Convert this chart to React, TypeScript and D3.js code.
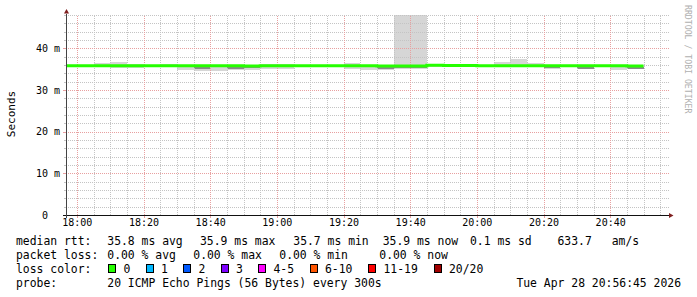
import React from "react";
import * as d3 from "d3";

// ---- data ----
const stepCount = 35; // 5-minute steps from 17:55 to 20:50
const stepStartUtc = Date.UTC(2026, 3, 28, 17, 55);
const stepMs = 300000;

const medianMs = [
  35.8, 35.8, 35.8, 35.8, 35.8, 35.8, 35.8, 35.8, 35.8, 35.8,
  35.8, 35.75, 35.8, 35.8, 35.8, 35.8, 35.8, 35.8, 35.8, 35.75,
  35.75, 35.75, 35.95, 35.85, 35.85, 35.8, 35.8, 35.8, 35.8, 35.8,
  35.8, 35.8, 35.8, 35.8, 35.75,
];
const smokeLoMs = [
  35.5, 35.5, 35.5, 35.3, 35.3, 35.5, 35.4, 34.9, 34.5, 34.6,
  34.9, 34.9, 35.0, 35.1, 35.5, 35.5, 35.5, 35.1, 34.9, 34.9,
  35.1, 35.1, 35.6, 35.5, 35.5, 35.5, 35.5, 35.5, 35.4, 35.1,
  35.5, 35.0, 35.5, 34.7, 35.0,
];
const smokeHiMs = [
  36.1, 36.1, 36.5, 36.8, 36.3, 36.0, 36.3, 36.0, 35.9, 35.9,
  36.1, 36.0, 36.3, 36.3, 36.0, 36.0, 36.0, 36.4, 36.0, 35.9,
  48.1, 48.1, 36.2, 36.3, 36.2, 36.0, 36.8, 37.4, 36.4, 36.0,
  36.0, 36.0, 36.0, 36.0, 35.9,
];
const coreLoMs = [
  35.6, 35.6, 35.6, 35.6, 35.5, 35.6, 35.6, 35.5, 35.1, 35.4,
  35.1, 35.2, 35.4, 35.4, 35.6, 35.6, 35.6, 35.4, 35.4, 35.1,
  35.2, 35.2, 35.7, 35.6, 35.6, 35.6, 35.6, 35.6, 35.6, 35.2,
  35.6, 35.1, 35.6, 35.4, 35.1,
];
const coreHiMs = [
  35.9, 35.9, 36.0, 36.0, 35.9, 35.9, 35.9, 35.9, 35.6, 35.7,
  35.6, 35.6, 35.9, 35.9, 35.9, 35.9, 35.9, 35.9, 35.8, 35.6,
  35.6, 35.6, 36.1, 36.0, 36.0, 35.9, 36.0, 36.0, 35.9, 35.7,
  35.9, 35.6, 35.9, 35.7, 35.6,
];

const yTickValues = [0, 10, 20, 30, 40];
const yTickLabels = ["0  ", "10 m", "20 m", "30 m", "40 m"];

const rttLabel = "median rtt:";
const rttItems = ["35.8 ms avg", "35.9 ms max", "35.7 ms min", "35.9 ms now", "0.1 ms sd", "633.7", "am/s"];
const lossLabel = "packet loss:";
const lossItems = ["0.00 % avg", "0.00 % max", "0.00 % min", "0.00 % now"];
const colorLabel = "loss color:";
const lossBucketLabels = ["0", "1", "2", "3", "4-5", "6-10", "11-19", "20/20"];
const lossBucketColors = ["#26ff00", "#00b8ff", "#0059ff", "#7e00ff", "#ff00ff", "#ff5500", "#ff0000", "#a10000"];
const probeLabel = "probe:";
const probeText = "20 ICMP Echo Pings (56 Bytes) every 300s";
const dateText = "Tue Apr 28 20:56:45 2026";
const yAxisTitle = "Seconds";
const watermark = "RRDTOOL / TOBI OETIKER";

export default function App() {
  const W = 697, H = 297;
  const left = 66, right = 666, bottom = 215;
  const t0 = new Date(Date.UTC(2026, 3, 28, 17, 56, 45));
  const t1 = new Date(Date.UTC(2026, 3, 28, 20, 56, 45));
  const x = d3.scaleUtc().domain([t0, t1]).range([left, right]);
  const yMax = 48.1;
  const y = d3.scaleLinear().domain([0, yMax]).range([bottom, bottom - yMax * (166.67 / 40)]);
  const top = y(yMax);
  const gridRight = 669;

  const starts = d3.range(stepCount).map((i) => new Date(stepStartUtc + i * stepMs));
  const ends = starts.map((d) => new Date(d.getTime() + stepMs));

  const minorY = d3.range(0, 49, 2).filter((v) => v % 10 !== 0);
  const majorY = d3.range(0, 49, 10).filter((v) => v > 0);
  const timeTicks5 = x.ticks(d3.utcMinute.every(5));
  const majorX = timeTicks5.filter((d) => d.getUTCMinutes() % 20 === 0);
  const minorX = timeTicks5.filter((d) => d.getUTCMinutes() % 20 !== 0);
  const fmt = d3.utcFormat("%H:%M");

  const linePts: [Date, number][] = starts.map((d, i) => [d, medianMs[i]]);
  linePts.push([ends[stepCount - 1], medianMs[stepCount - 1]]);
  const medianPath = d3
    .line<[Date, number]>()
    .x((d) => x(d[0]))
    .y((d) => y(d[1]))
    .curve(d3.curveStepAfter)(linePts) as string;

  const mono = "'DejaVu Sans Mono', monospace";
  const charW = 7.0;

  // legend layout
  const col2 = 107.3;
  const rttX = [col2, 200, 293.3, 382.7, 470, 557.5, 611.7];
  const lossX = [col2, 193.3, 279.3, 379.3];
  const boxes: { bx: number; lx: number }[] = [];
  let bx = 108.5;
  lossBucketLabels.forEach((lab) => {
    const lx = bx + 15;
    boxes.push({ bx, lx });
    bx = lx + lab.length * charW + 15.5;
  });

  const minorGrid = "#c4c4c4";
  const majorGrid = "#e8a0a0";

  return (
    <svg width={W} height={H} style={{ position: "absolute", left: 0, top: 0, background: "#fff" }} fontFamily={mono}>
      <defs>
        <clipPath id="plot">
          <rect x={left} y={top} width={right - left} height={bottom - top} />
        </clipPath>
      </defs>
      <rect x={0} y={0} width={W} height={H} fill="#ffffff" />

      {/* smoke */}
      <g clipPath="url(#plot)">
        {starts.map((d, i) => (
          <rect key={"s" + i} x={x(d)} width={x(ends[i]) - x(d)} y={y(smokeHiMs[i])}
            height={y(smokeLoMs[i]) - y(smokeHiMs[i])} fill="#d6d6d6" shapeRendering="crispEdges" />
        ))}
        {starts.map((d, i) => (
          <rect key={"c" + i} x={x(d)} width={x(ends[i]) - x(d)} y={y(coreHiMs[i])}
            height={y(coreLoMs[i]) - y(coreHiMs[i])} fill="#8a8a8a" shapeRendering="crispEdges" />
        ))}
      </g>

      {/* grid */}
      <g strokeWidth={1} strokeDasharray="1,1" shapeRendering="crispEdges">
        {minorY.map((v) => (
          <line key={"my" + v} x1={left} x2={gridRight} y1={Math.round(y(v)) + 0.5} y2={Math.round(y(v)) + 0.5} stroke={minorGrid} />
        ))}
        {minorX.map((d) => (
          <line key={"mx" + d.getTime()} x1={Math.round(x(d)) + 0.5} x2={Math.round(x(d)) + 0.5} y1={bottom} y2={top} stroke={minorGrid} />
        ))}
        {majorY.map((v) => (
          <line key={"My" + v} x1={left} x2={gridRight} y1={Math.round(y(v)) + 0.5} y2={Math.round(y(v)) + 0.5} stroke={majorGrid} />
        ))}
        {majorX.map((d) => (
          <line key={"Mx" + d.getTime()} x1={Math.round(x(d)) + 0.5} x2={Math.round(x(d)) + 0.5} y1={bottom} y2={top} stroke={majorGrid} />
        ))}
      </g>
      {/* ticks */}
      <g shapeRendering="crispEdges">
        {minorY.map((v) => (
          <line key={"ty" + v} x1={left - 2} x2={left} y1={Math.round(y(v)) + 0.5} y2={Math.round(y(v)) + 0.5} stroke={minorGrid} />
        ))}
        {majorY.map((v) => (
          <line key={"tY" + v} x1={left - 3} x2={left} y1={Math.round(y(v)) + 0.5} y2={Math.round(y(v)) + 0.5} stroke={majorGrid} />
        ))}
        {majorX.map((d) => (
          <line key={"tX" + d.getTime()} x1={Math.round(x(d)) + 0.5} x2={Math.round(x(d)) + 0.5} y1={bottom} y2={bottom + 3} stroke={majorGrid} />
        ))}
      </g>

      {/* median line */}
      <path d={medianPath} clipPath="url(#plot)" fill="none" stroke={lossBucketColors[0]} strokeWidth={3} />

      {/* axes */}
      <line x1={left - 3} x2={gridRight} y1={bottom + 0.5} y2={bottom + 0.5} stroke="#111" shapeRendering="crispEdges" />
      <line x1={left + 0.5} x2={left + 0.5} y1={bottom + 3} y2={top - 1} stroke="#444" shapeRendering="crispEdges" />
      <path d={`M${left + 0.5},9 L${left + 3},13.5 L${left - 2},13.5 Z`} fill="#7f1f1f" />
      <path d={`M673.5,${bottom + 0.5} L669,${bottom - 2} L669,${bottom + 3} Z`} fill="#7f1f1f" />

      {/* axis labels */}
      <g fontSize={10} fill="#000">
        {majorX.map((d) => (
          <text key={"lx" + d.getTime()} x={x(d) + 0.5} y={226} textAnchor="middle">{fmt(d)}</text>
        ))}
        {yTickValues.map((v, i) => (
          <text key={"ly" + v} x={60} y={y(v) + 3.6} textAnchor="end" style={{ whiteSpace: "pre" }}>{yTickLabels[i]}</text>
        ))}
      </g>
      <text transform="translate(15,114) rotate(-90)" fontSize={11} textAnchor="middle" fill="#000">{yAxisTitle}</text>
      <text transform="translate(685,5) rotate(90)" fontSize={8.2} fill="#b0b0b0">{watermark}</text>

      {/* legend */}
      <g fontSize={11.4} fill="#000" style={{ whiteSpace: "pre" }}>
        <text x={16} y={245}>{rttLabel}</text>
        {rttItems.map((s, i) => (
          <text key={"r" + i} x={rttX[i]} y={245}>{s}</text>
        ))}
        <text x={16} y={259}>{lossLabel}</text>
        {lossItems.map((s, i) => (
          <text key={"p" + i} x={lossX[i]} y={259}>{s}</text>
        ))}
        <text x={16} y={273}>{colorLabel}</text>
        {boxes.map((b, i) => (
          <g key={"b" + i}>
            <rect x={b.bx} y={264.5} width={7} height={8} fill={lossBucketColors[i]} stroke="#000" strokeWidth={1} shapeRendering="crispEdges" />
            <text x={b.lx} y={273}>{lossBucketLabels[i]}</text>
          </g>
        ))}
        <text x={16} y={287}>{probeLabel}</text>
        <text x={col2} y={287}>{probeText}</text>
        <text x={681} y={287} textAnchor="end">{dateText}</text>
      </g>
    </svg>
  );
}
